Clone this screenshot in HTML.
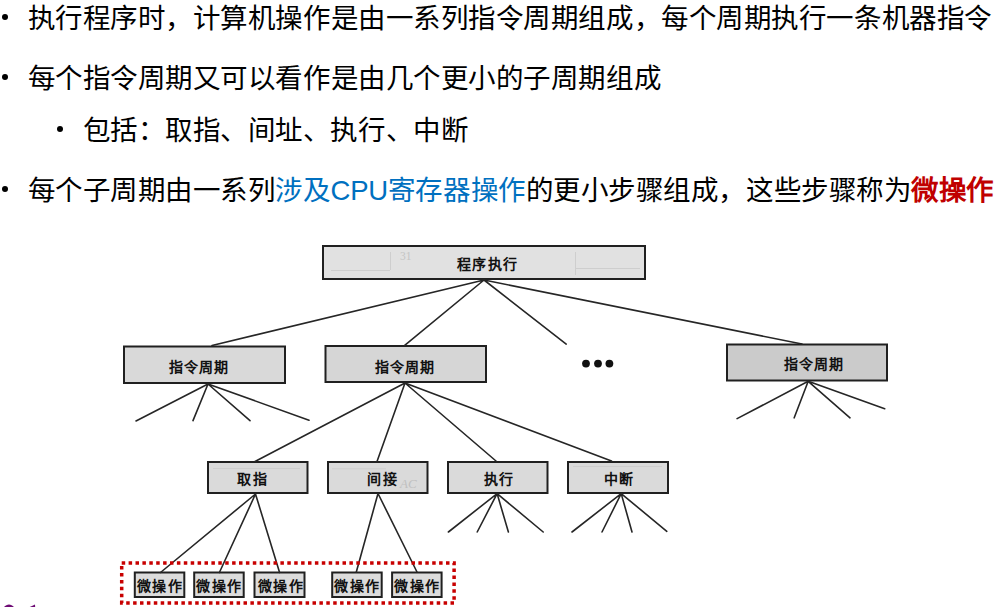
<!DOCTYPE html>
<html lang="zh-CN">
<head>
<meta charset="utf-8">
<style>
html,body{margin:0;padding:0;background:#fff;}
body{width:1000px;height:607px;position:relative;overflow:hidden;font-family:"Liberation Sans",sans-serif;color:#000;}
.ln{position:absolute;white-space:nowrap;font-size:27.5px;line-height:34px;letter-spacing:0.55px;}
.bul{position:absolute;width:6.6px;height:6.6px;border-radius:50%;background:#000;}
.blue{color:#0070C0;}
.red{color:#C00000;font-weight:bold;}
svg{position:absolute;left:0;top:0;}
.bx{font-family:"Liberation Serif",serif;font-weight:bold;fill:#111;}
</style>
</head>
<body>
<div class="bul" style="left:1.8px;top:13.7px"></div>
<div class="ln" style="left:27.5px;top:2px">执行程序时，计算机操作是由一系列指令周期组成，每个周期执行一条机器指令</div>
<div class="bul" style="left:1.8px;top:73.7px"></div>
<div class="ln" style="left:27.5px;top:62px">每个指令周期又可以看作是由几个更小的子周期组成</div>
<div class="bul" style="left:56.7px;top:125.7px"></div>
<div class="ln" style="left:82.5px;top:114px">包括：取指、间址、执行、中断</div>
<div class="bul" style="left:1.8px;top:185.7px"></div>
<div class="ln" style="left:27.5px;top:174px">每个子周期由一系列<span class="blue">涉及<span style="letter-spacing:-0.25px">CPU</span>寄存器操作</span>的更小步骤组成，这些步骤称为<span class="red">微操作</span></div>

<svg width="1000" height="607" viewBox="0 0 1000 607">
<g stroke="#202020" stroke-width="2">
<rect x="323" y="246" width="322" height="33" fill="#e1e1e1"/>
<rect x="124" y="346.5" width="161" height="36.5" fill="#d9d9d9"/>
<rect x="325.5" y="346" width="160.5" height="36" fill="#d6d6d6"/>
<rect x="727" y="344.5" width="160" height="36" fill="#cbcbcb"/>
<rect x="208" y="462" width="99.5" height="31" fill="#dadada"/>
<rect x="328" y="462" width="99.5" height="31" fill="#dadada"/>
<rect x="448" y="462" width="99.5" height="31" fill="#dadada"/>
<rect x="568" y="462" width="100" height="31" fill="#dadada"/>
<rect x="134.8" y="572.5" width="49.5" height="24.5" fill="#dcdcdc"/>
<rect x="194.2" y="572.5" width="49.5" height="24.5" fill="#dcdcdc"/>
<rect x="254.5" y="572.5" width="50" height="24.5" fill="#dcdcdc"/>
<rect x="332.2" y="572.5" width="49.5" height="24.5" fill="#dcdcdc"/>
<rect x="392.1" y="572.5" width="49.5" height="24.5" fill="#dcdcdc"/>
</g>
<g stroke="#cecece" stroke-width="1" fill="none">
<path d="M390.5 252V270M331 270.5H390M575.5 252V275M576 268.5H640"/>
<path d="M213 468.5H300M332 468.8H386M573 466.5H662"/>
</g>
<text x="400" y="260" font-family="Liberation Serif,serif" font-size="11.5" fill="#c4c4c4">31</text>
<text x="400" y="488" font-family="Liberation Serif,serif" font-size="13" fill="#c0c0c0" font-style="italic">AC</text>
<g stroke="#262626" stroke-width="1.6" fill="none" stroke-linecap="round">
<path d="M484 280L212 345.5M484 280L404.7 345.4M484 280L566.2 344.1M484 280L802 344"/>
<path d="M208 384L136 421M208 384L193 420.6M208 384L250 420.6M208 384L309 420.2"/>
<path d="M405 383L255 461.5M405 383L377 461.5M405 383L496 461M405 383L611.5 461"/>
<path d="M808.2 381.3L737.1 418.6M808.2 381.3L794.2 417.8M808.2 381.3L850 417.8M808.2 381.3L884.7 408.8"/>
<path d="M255.5 494L160.5 572.5M255.5 494L219.4 572.5M255.5 494L279.6 572.5"/>
<path d="M378 493.5L356.3 572M378 493.5L417 572"/>
<path d="M497.1 493.6L448.4 532M497.1 493.6L477.2 532M497.1 493.6L508.4 532M497.1 493.6L543.2 532"/>
<path d="M621.2 493.6L572 532M621.2 493.6L602 532M621.2 493.6L632 532M621.2 493.6L666.8 531.3"/>
</g>
<g fill="#111">
<circle cx="586" cy="363.6" r="3.9"/><circle cx="598" cy="363.6" r="3.9"/><circle cx="609.4" cy="363.6" r="3.9"/>
</g>
<rect x="121.7" y="562.9" width="332.4" height="40.1" fill="none" stroke="#C80000" stroke-width="3.5" stroke-dasharray="3.5 3.4"/>
<g class="bx" text-anchor="middle" font-size="14">
<text x="487.6" y="269" letter-spacing="1.2">程序执行</text>
<text x="199.2" y="371.5" letter-spacing="1.2">指令周期</text>
<text x="405.2" y="371.5" letter-spacing="1.2">指令周期</text>
<text x="813.8" y="369" letter-spacing="1.1">指令周期</text>
<text x="253.4" y="484" letter-spacing="2">取指</text>
<text x="382.6" y="484" letter-spacing="1.8">间接</text>
<text x="499.2" y="484" letter-spacing="1.6">执行</text>
<text x="619.3" y="484" letter-spacing="1.6">中断</text>
<text x="160.2" y="591" letter-spacing="1.5">微操作</text>
<text x="219.6" y="591" letter-spacing="1.5">微操作</text>
<text x="281.2" y="591" letter-spacing="1.5">微操作</text>
<text x="357.6" y="591" letter-spacing="1.5">微操作</text>
<text x="417.6" y="591" letter-spacing="1.5">微操作</text>
</g>
<g fill="#6e0b74">
<path d="M3.5 607.5C5 606 7 604.6 9 604.6C11 604.6 13 606 14.5 607.5Z"/>
<path d="M28.5 607.5C31 606.5 33 605.5 35 604.6L35.2 607.5Z"/>
</g>
</svg>
</body>
</html>
